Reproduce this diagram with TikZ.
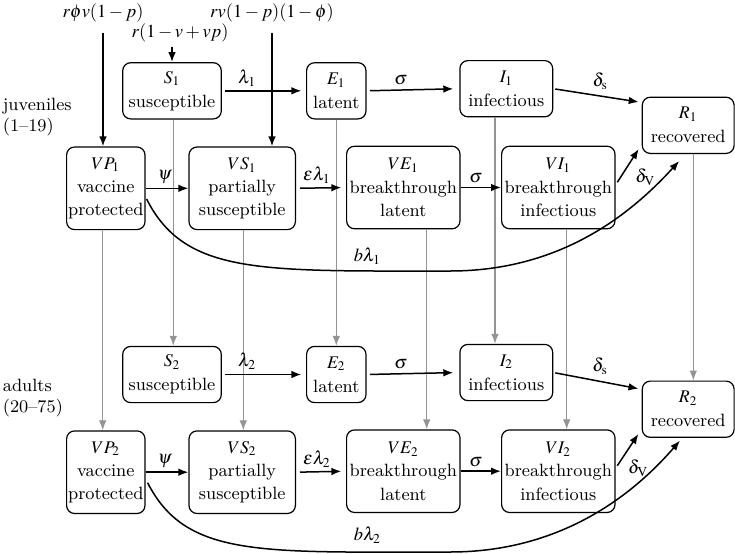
\documentclass[tikz,border=0pt]{standalone}
\usepackage{mathptmx}
\usepackage[no-math]{fontspec}
\setmainfont{Latin Modern Roman}
\usetikzlibrary{arrows.meta,calc}
\tikzset{
  box/.style={draw, rounded corners=4pt, line width=0.6pt, align=center, inner sep=0pt, minimum height=28.1pt, font=\rmfamily\fontsize{8.9}{12}\selectfont},
  tall/.style={box, minimum height=41.3pt, font=\rmfamily\fontsize{8.9}{11.6}\selectfont},
  arr/.style={-{Latex[length=5pt,width=3.8pt]}, line width=0.75pt},
  garr/.style={-{Latex[length=5pt,width=3.8pt]}, line width=0.6pt, draw=black!42, fill=black!42},
  lbl/.style={inner sep=1pt, font=\rmfamily\fontsize{9.2}{11}\selectfont},
  side/.style={anchor=west, align=left, inner sep=0pt, font=\rmfamily\fontsize{8.9}{10.5}\selectfont}
}
\begin{document}
\begin{tikzpicture}[x=0.5pt,y=-0.5pt]
\useasboundingbox (0,0) rectangle (735,553);

% top inflow labels
\node[lbl] (lab1) at (103,13) {$r\phi v(1-p)$};
\node[lbl] (lab2) at (272,13) {$rv(1-p)(1-\phi)$};
\node[lbl] (lab3) at (180,33) {$r(1-v+vp)$};

% group labels
\node[side] (juv) at (2.5,117) {juveniles\\(1–19)};
\node[side] (adu) at (2.5,398) {adults\\(20–75)};

% row 1
\node[box, minimum width=49.3pt] (S1) at (172,90.8) {$S_1$\\susceptible};
\node[box, minimum width=29.7pt] (E1) at (336.3,90.8) {$E_1$\\latent};
\node[box, minimum width=46.4pt] (I1) at (506.3,88.7) {$I_1$\\infectious};
\node[box, minimum width=45.9pt] (R1) at (688.2,125.3) {$R_1$\\recovered};
\node[tall, minimum width=39.2pt] (VP1) at (105.8,188.3) {$VP_1$\\vaccine\\protected};
\node[tall, minimum width=53.2pt] (VS1) at (242.2,188.3) {$VS_1$\\partially\\susceptible};
\node[tall, minimum width=56.7pt] (VE1) at (403.3,187.5) {$VE_1$\\breakthrough\\latent};
\node[tall, minimum width=56.7pt] (VI1) at (558.3,187.5) {$VI_1$\\breakthrough\\infectious};

% row 2
\node[box, minimum width=49.3pt] (S2) at (172,374.5) {$S_2$\\susceptible};
\node[box, minimum width=29.7pt] (E2) at (336.3,374.5) {$E_2$\\latent};
\node[box, minimum width=46.4pt] (I2) at (506.3,372.5) {$I_2$\\infectious};
\node[box, minimum width=45.9pt] (R2) at (688.2,409.2) {$R_2$\\recovered};
\node[tall, minimum width=39.2pt] (VP2) at (105.8,472.2) {$VP_2$\\vaccine\\protected};
\node[tall, minimum width=53.2pt] (VS2) at (242.2,472.2) {$VS_2$\\partially\\susceptible};
\node[tall, minimum width=56.7pt] (VE2) at (403.3,471.2) {$VE_2$\\breakthrough\\latent};
\node[tall, minimum width=56.7pt] (VI2) at (558.3,471.2) {$VI_2$\\breakthrough\\infectious};

% ageing (grey)
\draw[garr] ([xshift=-1.55pt]VP1.south) -- ([xshift=-1.55pt]VP2.north);
\draw[garr] ([xshift=0.65pt]S1.south) -- ([xshift=0.65pt]S2.north);
\draw[garr] ([xshift=0.55pt]VS1.south) -- ([xshift=0.55pt]VS2.north);
\draw[garr] (E1.south) -- (E2.north);
\draw[garr] ([xshift=11.7pt]VE1.south) -- ([xshift=11.7pt]VE2.north);
\draw[garr] ([xshift=-5.65pt]I1.south) -- ([xshift=-5.65pt]I2.north);
\draw[garr] ([xshift=4.2pt]VI1.south) -- ([xshift=4.2pt]VI2.north);
\draw[garr] ([xshift=2.55pt]R1.south) -- ([xshift=2.55pt]R2.north);

% inflows
\draw[arr, shorten <=4pt] (lab1.south) -- (lab1.south |- VP1.north);
\draw[arr, shorten <=4pt] (lab2.south) -- (lab2.south |- VS1.north);
\draw[arr, shorten <=1pt] (lab3.south -| S1.north) -- (S1.north);

% row 1 transitions
\draw[arr, shorten <=1.3pt, shorten >=2.3pt] (S1.east) -- node[lbl, pos=0.3, above=1pt] {$\lambda_1$} (E1.west);
\draw[arr, shorten <=1.6pt, shorten >=3pt] (E1.east) -- node[lbl, pos=0.37, above=1pt] {$\sigma$} (I1.west);
\draw[arr, shorten <=1pt] (I1.east) -- node[lbl, pos=0.55, above=2pt] {$\delta_{\mathrm{s}}$} ([xshift=-1.5pt,yshift=-2.7pt]R1.north west);
\draw[arr] (VP1.east) -- node[lbl, pos=0.45, above=1pt] {$\psi$} (VS1.west);
\draw[arr, shorten <=2pt, shorten >=2.3pt] (VS1.east) -- node[lbl, pos=0.42, above=1pt] {$\varepsilon\lambda_1$} (VE1.west);
\draw[arr] (VE1.east) -- node[lbl, pos=0.38, above=1pt] {$\sigma$} (VI1.west);
\draw[arr] ([xshift=0.85pt,yshift=2.6pt]VI1.east) -- node[lbl, pos=0.15, anchor=west, xshift=6pt] {$\delta_{\mathrm{V}}$} ([xshift=-1.5pt,yshift=2.5pt]R1.south west);
\draw[arr] ([xshift=0.5pt,yshift=-5.35pt]VP1.east) .. controls (185,275) and (260,271) .. node[lbl, pos=0.84, above=2pt] {$b\lambda_1$} (450,271)
  .. controls (560,271) and (630,215) .. ([xshift=-4.5pt,yshift=-3.5pt]R1.south);

% row 2 transitions
\draw[arr, shorten <=1.3pt, shorten >=2.3pt] (S2.east) -- node[lbl, pos=0.3, above=1pt] {$\lambda_2$} (E2.west);
\draw[arr, shorten <=1.6pt, shorten >=3pt] (E2.east) -- node[lbl, pos=0.37, above=1pt] {$\sigma$} (I2.west);
\draw[arr, shorten <=1pt] (I2.east) -- node[lbl, pos=0.55, above=2pt] {$\delta_{\mathrm{s}}$} ([xshift=-1.6pt,yshift=-4.1pt]R2.north west);
\draw[arr] (VP2.east) -- node[lbl, pos=0.45, above=1pt] {$\psi$} (VS2.west);
\draw[arr, shorten <=2pt, shorten >=2.3pt] (VS2.east) -- node[lbl, pos=0.42, above=1pt] {$\varepsilon\lambda_2$} (VE2.west);
\draw[arr] (VE2.east) -- node[lbl, pos=0.38, above=1pt] {$\sigma$} (VI2.west);
\draw[arr] ([xshift=0.85pt,yshift=2.75pt]VI2.east) -- node[lbl, pos=0.1, anchor=west, xshift=3pt, yshift=-3pt] {$\delta_{\mathrm{V}}$} ([xshift=-1.65pt,yshift=2pt]R2.south west);
\draw[arr] ([xshift=1pt,yshift=-5.25pt]VP2.east) .. controls (186,558) and (260,552) .. node[lbl, pos=0.84, above=3pt] {$b\lambda_2$} (450,552)
  .. controls (560,552) and (632,496) .. ([xshift=-4.1pt,yshift=-1.35pt]R2.south);
\end{tikzpicture}
\end{document}
